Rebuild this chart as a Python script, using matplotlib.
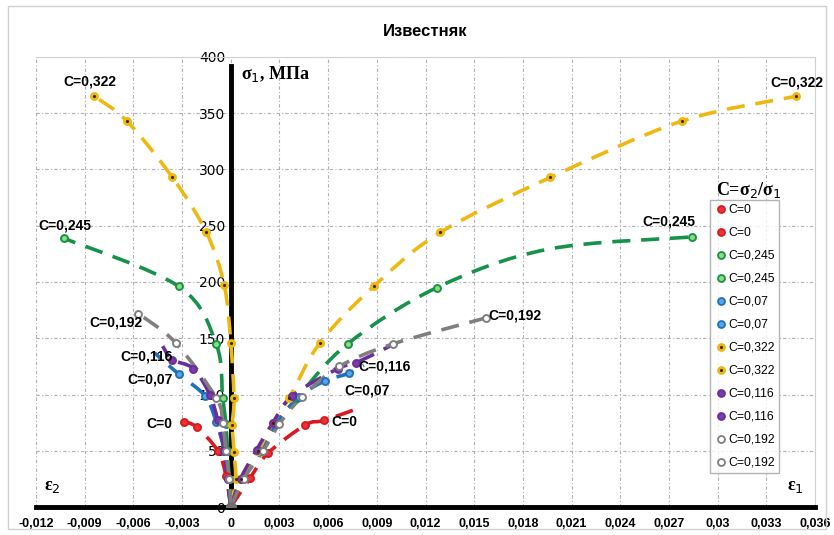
import matplotlib.pyplot as plt
from matplotlib.lines import Line2D
from matplotlib.path import Path
from matplotlib.patches import PathPatch

# strains (eps1 > 0, eps2 < 0) and stress sigma1, MPa, per C = sigma2/sigma1
e1_c0 = [0, 0.0012, 0.0023, 0.0046, 0.00575]
s1_c0 = [0, 26, 48, 73, 77]
e2_c0 = [0, -0.0003, -0.0008, -0.0021, -0.0029]
s2_c0 = [0, 28, 50, 71, 76]

e1_c245 = [0, 0.0007, 0.0019, 0.0028, 0.0041, 0.0072, 0.0127, 0.0284]
s1_c245 = [0, 25, 50, 74, 97, 145, 195, 240]
e2_c245 = [0, -0.0001, -0.0002, -0.0003, -0.0005, -0.0009, -0.0032, -0.0103]
s2_c245 = [0, 25, 50, 74, 97, 145, 196, 239]

e1_c07 = [0, 0.0007, 0.0018, 0.0028, 0.0042, 0.0058, 0.0073]
s1_c07 = [0, 25, 50, 74, 98, 112, 119]
e2_c07 = [0, -0.0002, -0.0004, -0.0009, -0.0016, -0.0032]
s2_c07 = [0, 25, 50, 76, 99, 118]

e1_c322 = [0, 0.0006, 0.0017, 0.0026, 0.0036, 0.0055, 0.0088, 0.0129, 0.0197, 0.0278, 0.0348]
s1_c322 = [0, 25, 50, 75, 97, 146, 196, 244, 293, 343, 365]
e2_c322 = [0, 0.0003, 0.0002, 0.0001, 0.0002, 0.0, -0.0004, -0.0015, -0.0036, -0.0064, -0.0084]
s2_c322 = [0, 25, 49, 73, 97, 146, 197, 244, 293, 343, 365]

e1_c116 = [0, 0.0006, 0.0016, 0.0026, 0.0038, 0.0066, 0.0077]
s1_c116 = [0, 25, 51, 75, 99, 123, 128]
e2_c116 = [0, -0.0002, -0.0004, -0.0008, -0.0013, -0.0023, -0.0036]
s2_c116 = [0, 25, 50, 77, 100, 123, 131]

e1_c192 = [0, 0.0008, 0.002, 0.003, 0.0044, 0.0067, 0.0100, 0.0157]
s1_c192 = [0, 25, 50, 74, 98, 125, 145, 168]
e2_c192 = [0, -0.0001, -0.0003, -0.0005, -0.0009, -0.0034, -0.0057]
s2_c192 = [0, 25, 50, 75, 97, 146, 172]

# trend line tails running past the last measured point
tail_e1 = {"C=0": (0.0081, 89), "C=0,07": (0.0082, 126), "C=0,116": (0.0098, 143)}
tail_e2 = {"C=0,07": (-0.0047, 137), "C=0,116": (-0.0042, 143)}
trend_mid_e1 = {"C=0,245": (6, 0.0195, 229)}

x_ticks = [-0.012, -0.009, -0.006, -0.003, 0, 0.003, 0.006, 0.009, 0.012, 0.015,
           0.018, 0.021, 0.024, 0.027, 0.03, 0.033, 0.036]
y_ticks = [0, 50, 100, 150, 200, 250, 300, 350, 400]

series = [
    ("C=0", e1_c0, s1_c0, e2_c0, s2_c0),
    ("C=0,245", e1_c245, s1_c245, e2_c245, s2_c245),
    ("C=0,07", e1_c07, s1_c07, e2_c07, s2_c07),
    ("C=0,322", e1_c322, s1_c322, e2_c322, s2_c322),
    ("C=0,116", e1_c116, s1_c116, e2_c116, s2_c116),
    ("C=0,192", e1_c192, s1_c192, e2_c192, s2_c192),
]
colors = {"C=0": "#d9191f", "C=0,245": "#16924a", "C=0,07": "#1f6fbf",
          "C=0,322": "#efb810", "C=0,116": "#6b2e98", "C=0,192": "#7f7f7f"}
faces = {"C=0": "#e8333a", "C=0,245": "#8fdc78", "C=0,07": "#5aa5e6",
         "C=0,322": "#efb810", "C=0,116": "#7b3cab", "C=0,192": "white"}

sans = ["Liberation Sans", "DejaVu Sans"]
serif = ["Liberation Serif", "DejaVu Serif"]


def smooth_path(xs, ys):
    # Excel-style smoothed line: cubic Bezier through every point
    pts = list(zip(xs, ys))
    verts = [pts[0]]
    codes = [Path.MOVETO]
    n = len(pts)
    for i in range(n - 1):
        p0 = pts[max(i - 1, 0)]
        p1 = pts[i]
        p2 = pts[i + 1]
        p3 = pts[min(i + 2, n - 1)]
        c1 = (p1[0] + (p2[0] - p0[0]) / 6, p1[1] + (p2[1] - p0[1]) / 6)
        c2 = (p2[0] - (p3[0] - p1[0]) / 6, p2[1] - (p3[1] - p1[1]) / 6)
        verts += [c1, c2, p2]
        codes += [Path.CURVE4] * 3
    return Path(verts, codes)


fig = plt.figure(figsize=(8.34, 5.35), dpi=100)
fig.patches.append(plt.Rectangle((0.01, 0.012), 0.98, 0.976, transform=fig.transFigure,
                                 fill=False, ec="#d0d0d0", lw=1))
ax = fig.add_axes([0.0432, 0.0523, 0.9340, 0.8412])

handles = []
for lab, e1, s1, e2, s2 in series:
    col = colors[lab]
    for e, s, tail, mid in ((e1, s1, tail_e1, trend_mid_e1), (e2, s2, tail_e2, {})):
        le, ls = list(e), list(s)
        if lab in mid:
            k, me, ms_ = mid[lab]
            le.insert(k + 1, me)
            ls.insert(k + 1, ms_)
        if lab in tail:
            le.append(tail[lab][0])
            ls.append(tail[lab][1])
        ax.add_patch(PathPatch(smooth_path(le, ls), fill=False, ec=col, lw=2.6,
                               ls=(0, (5, 3)), zorder=3))
        ax.plot(e[1:], s[1:], "o", ms=5, mfc=faces[lab], mec=col, mew=1.4, zorder=4)
        mk = Line2D([], [], ls="none", marker="o", ms=5, mfc=faces[lab], mec=col, mew=1.3)
        if lab == "C=0,322":
            ax.plot(e[1:], s[1:], ".", ms=2.5, color="#3a2a00", zorder=5)
            dot = Line2D([], [], ls="none", marker=".", ms=2.5, color="#3a2a00")
            handles.append(((mk, dot), lab))
        else:
            handles.append((mk, lab))
ax.plot([0], [0], "o", ms=7, color="#707070", zorder=6)

ax.set_xlim(-0.012, 0.036)
ax.set_ylim(0, 400)
ax.set_xticks(x_ticks)
ax.set_yticks(y_ticks)
ax.set_xticklabels([("%g" % v).replace(".", ",") for v in x_ticks],
                   family=sans, fontsize=9, fontweight="bold")
ax.set_yticklabels([str(v) for v in y_ticks], family=sans, fontsize=9, fontweight="bold")
ax.tick_params(length=0, pad=4)
ax.tick_params(axis="x", pad=8)
ax.grid(True, color="#b0b0b0", ls=(0, (3, 2, 1, 2)), lw=0.8)
ax.set_axisbelow(True)

ax.spines["left"].set_position(("data", 0))
ax.spines["left"].set_linewidth(3.5)
ax.spines["left"].set_zorder(2)
ax.spines["bottom"].set_linewidth(3.5)
for side in ("top", "right"):
    ax.spines[side].set_color("#d0d0d0")
ax.spines["left"].set_bounds(0, 392)

ax.set_title("Известняк", family=sans, fontsize=12, fontweight="bold", pad=15)

ax.text(0.0006, 385, r"σ$_1$, МПа", family=serif, fontsize=13, fontweight="bold", va="center")
ax.text(-0.0115, 15, r"ε$_2$", family=serif, fontsize=13, fontweight="bold")
ax.text(0.0343, 15, r"ε$_1$", family=serif, fontsize=13, fontweight="bold")

# curve end labels
end_labels = [
    ("C=0,322", -0.0087, 378), ("C=0,322", 0.0349, 377),
    ("C=0,245", -0.0102, 250), ("C=0,245", 0.0270, 254),
    ("C=0,192", -0.0071, 164), ("C=0,192", 0.0175, 170),
    ("C=0,116", -0.0052, 134), ("C=0,116", 0.0095, 125),
    ("C=0,07", -0.0050, 113), ("C=0,07", 0.0084, 104),
    ("C=0", -0.0044, 74), ("C=0", 0.0070, 76),
]
for txt, x, y in end_labels:
    ax.text(x, y, txt, family=sans, fontsize=10, fontweight="bold", ha="center", va="center",
            zorder=7)

leg = ax.legend(handles=[h for h, _ in handles], labels=[l for _, l in handles],
                loc="upper left", bbox_to_anchor=(0.8655, 0.683),
                prop={"family": sans, "size": 8.8}, frameon=True, fancybox=False,
                handletextpad=0.1, handlelength=1.0, borderpad=0.35, labelspacing=0.9,
                borderaxespad=0)
leg.get_frame().set_edgecolor("#a0a0a0")
leg.get_frame().set_linewidth(1)
ax.text(0.9145, 0.705, r"C=σ$_2$/σ$_1$", transform=ax.transAxes, family=serif,
        fontsize=13, fontweight="bold", ha="center", va="center")

fig.savefig("out.png", dpi=100)
